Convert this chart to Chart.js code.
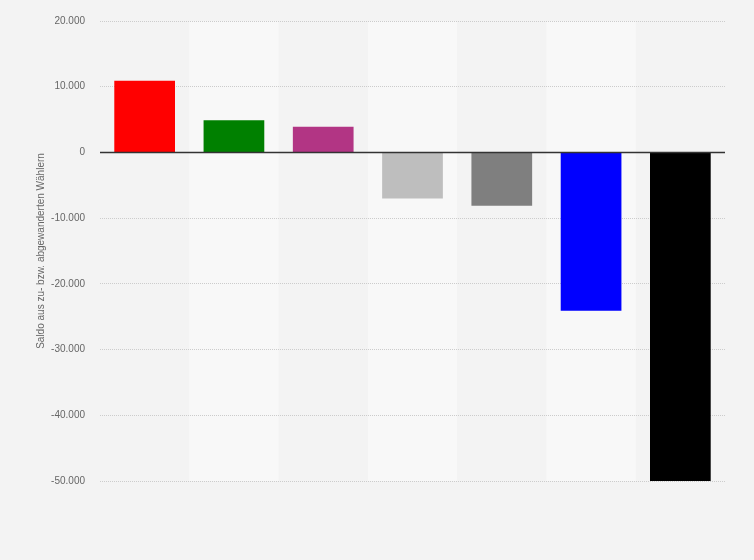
<!DOCTYPE html>
<html>
<head>
<meta charset="utf-8">
<script src="https://cdn.jsdelivr.net/npm/chart.js@4"></script>
<style>
html,body{margin:0;padding:0;background:#f3f3f3;}
#wrap{width:754px;height:560px;}
</style>
</head>
<body>
<div id="wrap"><canvas id="c" width="754" height="560"></canvas></div>
<script>
const categories = ['SPD', 'Grüne', 'Die Linke', 'Sonstige', 'Nichtwähler', 'FDP', 'CDU'];
const values = [10900, 4900, 3900, -7000, -8100, -24100, -50000];
const barColors = ['#ff0000', '#008000', '#b23584', '#bebebe', '#7f7f7f', '#0000ff', '#000000'];
const yTicks = [20000, 10000, 0, -10000, -20000, -30000, -40000, -50000];
const yTitle = 'Saldo aus zu- bzw. abgewanderten Wählern';

const zeroLine = {
  id: 'zeroLine',
  afterDatasetsDraw(chart) {
    const {ctx, chartArea, scales} = chart;
    const y = Math.round(scales.y.getPixelForValue(0)) + 0.5;
    ctx.save();
    ctx.strokeStyle = '#333333';
    ctx.lineWidth = 1.5;
    ctx.beginPath();
    ctx.moveTo(chartArea.left, y);
    ctx.lineTo(chartArea.right, y);
    ctx.stroke();
    ctx.restore();
  }
};

const stripesUnder = {
  id: 'stripesUnder',
  beforeDraw(chart) {
    const {ctx, chartArea, scales} = chart;
    if (!scales.x) return;
    const x = scales.x;
    const w = (x.getPixelForValue(1) - x.getPixelForValue(0));
    ctx.save();
    ctx.fillStyle = '#f8f8f8';
    categories.forEach((c, i) => {
      if (i % 2 === 1) {
        const cx = x.getPixelForValue(i);
        ctx.fillRect(cx - w / 2, chartArea.top, w, chartArea.bottom - chartArea.top);
      }
    });
    ctx.restore();
  }
};

new Chart(document.getElementById('c'), {
  type: 'bar',
  data: {
    labels: categories,
    datasets: [{
      data: values,
      backgroundColor: barColors,
      borderColor: barColors,
      borderWidth: 0,
      categoryPercentage: 1,
      barPercentage: 0.68
    }]
  },
  options: {
    responsive: false,
    animation: false,
    devicePixelRatio: 1,
    layout: {padding: {left: 31, right: 29, top: 19, bottom: 79}},
    plugins: {legend: {display: false}, tooltip: {enabled: false}},
    scales: {
      x: {display: false},
      y: {
        min: -50000, max: 20000,
        afterBuildTicks(axis) { axis.ticks = yTicks.map(v => ({value: v})); },
        afterFit(axis) { axis.width = 69; },
        grid: {color: '#cccccc', lineWidth: 1, drawTicks: false},
        border: {display: false, dash: [1, 1]},
        ticks: {
          padding: 15,
          color: '#666666',
          font: {family: 'Liberation Sans, Arial, sans-serif', size: 10},
          callback: v => v.toLocaleString('de-DE')
        },
        title: {
          display: true, text: yTitle, color: '#666666',
          font: {family: 'Liberation Sans, Arial, sans-serif', size: 10},
          padding: {top: 4, bottom: 0}
        }
      }
    }
  },
  plugins: [stripesUnder, zeroLine]
});
</script>
</body>
</html>
